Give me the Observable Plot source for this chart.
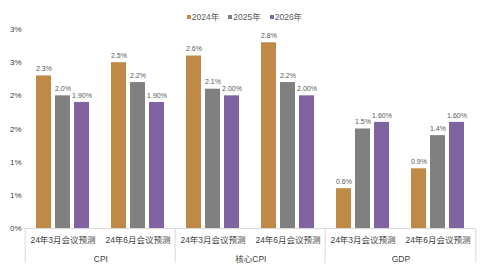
<!DOCTYPE html>
<html><head><meta charset="utf-8">
<script src="https://cdn.jsdelivr.net/npm/d3@7"></script>
<script src="https://cdn.jsdelivr.net/npm/@observablehq/plot@0.6"></script>
<style>
body{margin:0;background:#fff;font-family:"Liberation Sans","Noto Sans CJK SC",sans-serif;}
#wrap{width:485px;height:268px;position:relative;}
#legend{height:22px;display:flex;justify-content:center;align-items:flex-end;gap:9px;font-size:8.5px;color:#595959;padding-left:4px;box-sizing:border-box;}
#legend span.sw{display:inline-block;width:4px;height:4px;margin-right:1px;vertical-align:middle;position:relative;top:-1px;}
</style></head>
<body><div id="wrap"><div id="legend"></div><div id="chart"></div></div>
<script>
const groups = ["CPI", "核心CPI", "GDP"];
const subLabels = ["24年3月会议预测", "24年6月会议预测"];
const years = ["2024年", "2025年", "2026年"];
const colors = ["#BE8A45", "#808080", "#8064A2"];
const v2024 = [2.3, 2.5, 2.6, 2.8, 0.6, 0.9];
const v2025 = [2.0, 2.2, 2.1, 2.2, 1.5, 1.4];
const v2026 = [1.9, 1.9, 2.0, 2.0, 1.6, 1.6];
const l2024 = ["2.3%", "2.5%", "2.6%", "2.8%", "0.6%", "0.9%"];
const l2025 = ["2.0%", "2.2%", "2.1%", "2.2%", "1.5%", "1.4%"];
const l2026 = ["1.90%", "1.90%", "2.00%", "2.00%", "1.60%", "1.60%"];
const yTicks = [0, 0.5, 1, 1.5, 2, 2.5, 3];
const yTickLabels = ["0%", "1%", "1%", "2%", "2%", "3%", "3%"];

const keys = [];
groups.forEach(g => subLabels.forEach(s => keys.push(g + "|" + s)));
const vals = [v2024, v2025, v2026];
const labs = [l2024, l2025, l2026];
const data = [];
keys.forEach((k, i) => years.forEach((y, j) => data.push({key: k, year: y, value: vals[j][i], label: labs[j][i]})));

const W = 485, H = 246, ML = 23, MR = 8, MT = 7, MB = 40;
const facetW = (W - ML - MR) / keys.length;
const pxPerUnit = (H - MT - MB) / 3;
const sepBottom = -35 / pxPerUnit;
const groupFirst = groups.map(g => g + "|" + subLabels[0]);
const font = '"Liberation Sans","Noto Sans CJK SC",sans-serif';

const legend = document.getElementById("legend");
years.forEach((y, j) => {
  const s = document.createElement("span");
  s.innerHTML = `<span class="sw" style="background:${colors[j]}"></span>${y}`;
  legend.appendChild(s);
});

const plot = Plot.plot({
  width: W, height: H,
  marginLeft: ML, marginRight: MR, marginTop: MT, marginBottom: MB,
  style: {fontFamily: font, fontSize: "8px", color: "#404040", background: "#fff"},
  fx: {domain: keys, padding: 0, label: null, axis: null},
  x: {domain: years, paddingInner: 0.2, paddingOuter: 0.55, axis: null},
  y: {domain: [0, 3], ticks: yTicks, tickFormat: (d) => yTickLabels[yTicks.indexOf(d)], label: null, tickSize: 0, tickPadding: 4},
  color: {domain: years, range: colors},
  marks: [
    Plot.axisFx({anchor: "bottom", domain: keys, tickFormat: k => k.split("|")[1], tickSize: 0, tickPadding: 8, label: null, fontSize: 8.5, fill: "#404040"}),
    Plot.ruleY([0], {stroke: "#d9d9d9", strokeWidth: 1}),
    Plot.barY(data, {fx: "key", x: "year", y: "value", fill: "year"}),
    Plot.text(data, {fx: "key", x: "year", y: "value", text: "label", dy: -7, fontSize: 7, fill: "#595959"}),
    Plot.ruleX(groupFirst, {fx: d => d, x: null, y1: 0, y2: sepBottom, dx: -facetW / 2, stroke: "#d9d9d9"}),
    Plot.ruleX([keys[keys.length - 1]], {fx: d => d, x: null, y1: 0, y2: sepBottom, dx: facetW / 2, stroke: "#d9d9d9"}),
    Plot.text(groups, {fx: (d, i) => groupFirst[i], y: 0, text: d => d, dx: facetW / 2, dy: 31, fontSize: 8.5, fill: "#404040"})
  ]
});
document.getElementById("chart").appendChild(plot);
</script></body></html>
